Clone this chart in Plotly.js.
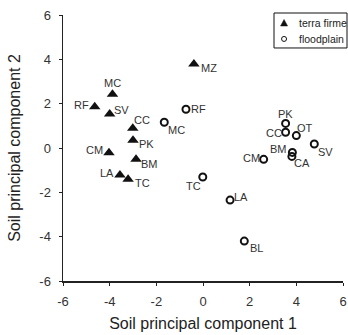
<!DOCTYPE html>
<html>
<head>
<meta charset="utf-8">
<script src="https://cdn.plot.ly/plotly-3.0.1.min.js"></script>
<style>html,body{margin:0;padding:0;background:#fff;}#chart{width:348px;height:335px;}</style>
</head>
<body>
<div id="chart"></div>
<script>
// Terra firme sites
var tfLabels = ["MZ","MC","RF","SV","CC","PK","CM","BM","LA","TC"];
var tfX = [-0.39,-3.88,-4.64,-4.0,-3.01,-3.0,-4.03,-2.87,-3.56,-3.21];
var tfY = [3.79,2.42,1.86,1.53,0.89,0.35,-0.21,-0.51,-1.22,-1.41];

// Floodplain sites
var fpLabels = ["RF","MC","PK","CC","OT","SV","BM","CA","CM","TC","LA","BL"];
var fpX = [-0.73,-1.66,3.54,3.54,4.0,4.77,3.83,3.81,2.6,-0.01,1.16,1.77];
var fpY = [1.75,1.16,1.11,0.71,0.56,0.18,-0.2,-0.38,-0.51,-1.31,-2.35,-4.2];

// Legend entries
var legendNames = ["terra firme", "floodplain"];

// Label placement (pixel offsets of label centre from the marker) - styling only
var tfOffsets = [[15,-4],[0,11],[-13,2],[12,4],[9,8],[13,-4],[-14,3],[13,-5],[-13,2],[14,-4]];
var fpOffsets = [[13,0],[12,-8],[0,9],[-12,-1],[9,8],[11,-8],[-14,3],[10,-7],[-12,1],[-9,-9],[11,3],[12,-7]];

var FONT = "Liberation Sans, Arial, Helvetica, sans-serif";
var labelFont = {family: FONT, size: 11, color: "#333"};

var traces = [
  {
    type: "scatter", mode: "markers", name: legendNames[0],
    x: tfX, y: tfY,
    marker: {symbol: "triangle-up", size: 10, color: "#111"},
    cliponaxis: false, hoverinfo: "none", showlegend: false
  },
  {
    type: "scatter", mode: "markers", name: legendNames[1],
    x: fpX, y: fpY,
    marker: {symbol: "circle-open", size: 7, color: "#111", line: {width: 2, color: "#111"}},
    cliponaxis: false, hoverinfo: "none", showlegend: false
  }
];

var annotations = [];
function addLabels(xs, ys, labels, offs) {
  for (var i = 0; i < labels.length; i++) {
    annotations.push({
      x: xs[i], y: ys[i], xref: "x", yref: "y", text: labels[i], showarrow: false,
      xanchor: "center", yanchor: "middle", xshift: offs[i][0], yshift: offs[i][1],
      font: labelFont
    });
  }
}
addLabels(tfX, tfY, tfLabels, tfOffsets);
addLabels(fpX, fpY, fpLabels, fpOffsets);

// Manual legend (paper coordinates)
var legendFont = {family: FONT, size: 10.5, color: "#222"};
var legRowY = [0.97, 0.91];
var legSymX = 0.7895;
annotations.push({xref: "paper", yref: "paper", x: 0.84, y: legRowY[0], text: legendNames[0], showarrow: false,
  xanchor: "left", yanchor: "middle", font: legendFont, borderpad: 0});
annotations.push({xref: "paper", yref: "paper", x: 0.84, y: legRowY[1], text: legendNames[1], showarrow: false,
  xanchor: "left", yanchor: "middle", font: legendFont, borderpad: 0});

var axisFont = {family: FONT, size: 13, color: "#333"};
var titleFont = {family: FONT, size: 16, color: "#222"};

var layout = {
  width: 348, height: 335,
  margin: {l: 63, r: 5, t: 15, b: 54, autoexpand: false},
  paper_bgcolor: "#fff", plot_bgcolor: "#fff",
  showlegend: false,
  annotations: annotations,
  shapes: [
    {type: "rect", xref: "paper", yref: "paper", x0: 0.7536, x1: 1.0143, y0: 0.876, y1: 1.0075,
      line: {color: "#111", width: 1}, fillcolor: "#fff", layer: "below"},
    {type: "path", xref: "paper", yref: "paper", xsizemode: "pixel", ysizemode: "pixel",
      xanchor: legSymX, yanchor: legRowY[0], path: "M -3.5 -3 L 3.5 -3 L 0 3.5 Z",
      line: {color: "#111", width: 0.5}, fillcolor: "#111"},
    {type: "circle", xref: "paper", yref: "paper", xsizemode: "pixel", ysizemode: "pixel",
      xanchor: legSymX, yanchor: legRowY[1], x0: -2.5, x1: 2.5, y0: -2.5, y1: 2.5,
      line: {color: "#111", width: 1}, fillcolor: "rgba(0,0,0,0)"}
  ],
  xaxis: {
    range: [-6, 6], tickvals: [-6,-4,-2,0,2,4,6], ticktext: ["-6","-4","-2","0","2","4","6"],
    showgrid: false, zeroline: false, showline: true, linecolor: "#222", linewidth: 1.5,
    ticks: "outside", ticklen: 3, tickcolor: "#222", tickfont: axisFont, automargin: false,
    ticklabelstandoff: 5,
    title: {text: "Soil principal component 1", font: titleFont, standoff: 9}
  },
  yaxis: {
    range: [-6, 6], tickvals: [-6,-4,-2,0,2,4,6], ticktext: ["-6","-4","-2","0","2","4","6"],
    showgrid: false, zeroline: false, showline: true, linecolor: "#222", linewidth: 1.5,
    ticks: "outside", ticklen: 3, tickcolor: "#222", tickfont: axisFont, automargin: false,
    ticklabelstandoff: 5,
    title: {text: "Soil principal component 2", font: titleFont, standoff: 14}
  }
};

Plotly.newPlot("chart", traces, layout, {staticPlot: true, displayModeBar: false});
</script>
</body>
</html>
